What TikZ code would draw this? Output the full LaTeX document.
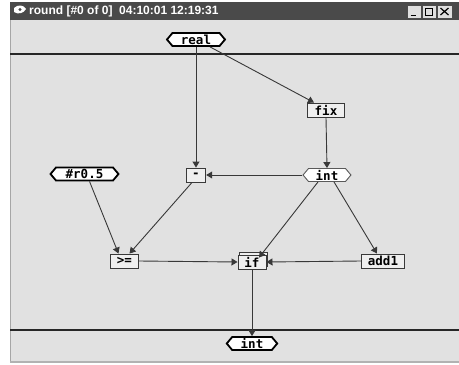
\documentclass[tikz,border=0pt]{standalone}
\usepackage{fontspec}
\setmonofont{DejaVu Sans Mono}
\newfontfamily\titlefont{Liberation Sans}
\usetikzlibrary{shapes.symbols,arrows.meta,shadows}
\definecolor{canvas}{HTML}{E1E1E1}
\definecolor{boxfill}{HTML}{EFEFEF}
\definecolor{titlebar}{HTML}{4A4A4A}
\definecolor{edgecol}{HTML}{383838}
\begin{document}
\begin{tikzpicture}[x=1pt,y=-1pt,
  nodefont/.style={font=\ttfamily\bfseries\fontsize{12.5}{13}\selectfont},
  hexio/.style={nodefont, signal, signal to=west and east, signal pointer angle=100,
    draw=black, line width=1.8pt, fill=white, inner xsep=8.5pt, inner ysep=0pt, minimum height=13pt},
  hexmid/.style={hexio, draw=gray!70!black, line width=0.9pt},
  opbox/.style={nodefont, rectangle, draw=gray!45!black, line width=0.9pt, fill=boxfill,
    inner xsep=6.5pt, inner ysep=0pt, minimum height=14pt},
  edge/.style={draw=edgecol, line width=0.9pt, -{Triangle[length=6pt,width=7pt]}},
  btn/.style={draw=gray!60!black, fill=gray!25, line width=0.6pt}
]
\useasboundingbox (0,0) rectangle (459,365);
\fill[white] (0,0) rectangle (459,365);
% window
\fill[canvas] (10,20) rectangle (459,362);
\draw[gray!70, line width=1pt] (10.5,20) -- (10.5,362);
\draw[gray!60, line width=1.2pt] (10,362) -- (459,362);
\fill[titlebar] (10,2) rectangle (459,20);
\node[anchor=west, text=white, font=\titlefont\bfseries\fontsize{12}{12}\selectfont, inner sep=0pt] (title) at (29,11.5) {round [\#0 of 0]\ \ 04:10:01 12:19:31};
% icon
\fill[white] (14,8) .. controls (18,4) and (24,5) .. (26,9) .. controls (24,13) and (18,15) .. (14,12) -- cycle;
\fill[titlebar] (20,9.5) circle (1.6pt);
% buttons
\draw[btn] (407,5) rectangle (421,18);
\draw[btn] (422,5) rectangle (436,18);
\draw[btn] (437,5) rectangle (452,18);
\draw[black, line width=1.4pt] (410.5,15.5) -- (416,15.5);
\draw[black, line width=0.9pt] (425.5,8) rectangle (432.5,15);
\draw[black, line width=1.2pt] (440.5,8) -- (448.5,15) (440.5,15) -- (448.5,8);
% separators
\draw[gray!30!black, line width=1.4pt] (10,54) -- (459,54);
\draw[gray!30!black, line width=1.4pt] (10,330) -- (459,330);
% nodes
\node[hexio] (real) at (196,39.5) {real};
\node[opbox, inner xsep=7pt] (fix) at (326,110) {fix};
\node[hexmid, inner xsep=7.2pt] (int1) at (327,175) {int};
\node[opbox, inner xsep=6pt] (minus) at (196,175) {-};
\node[hexio, inner xsep=9.7pt] (r05) at (84.5,174) {\#r0.5};
\node[opbox] (ge) at (124.5,261) {>=};
\node[opbox, copy shadow={shadow xshift=1.5pt, shadow yshift=3pt}] (if) at (252,262) {if};
\node[opbox] (add1) at (383,261) {add1};
\node[hexio] (int2) at (252,343.5) {int};
% edges
\draw[edge] ([xshift=14pt]real.south) -- ([xshift=-12pt]fix.north);
\draw[edge] (real.south) -- (minus.north);
\draw[edge] (fix.south) -- (int1.north);
\draw[edge] (int1.west) -- (minus.east);
\draw[edge] ([xshift=5pt]r05.south) -- ([xshift=-6pt]ge.north);
\draw[edge] ([xshift=-4pt]minus.south) -- ([xshift=5pt]ge.north);
\draw[edge] ([xshift=-9pt]int1.south) -- ([xshift=7pt,yshift=-3pt]if.north);
\draw[edge] ([xshift=7pt]int1.south) -- ([xshift=-6pt]add1.north);
\draw[edge] (ge.east) -- (if.west);
\draw[edge] (add1.west) -- (if.east);
\draw[edge] (if.south) -- (int2.north);
\end{tikzpicture}
\end{document}
